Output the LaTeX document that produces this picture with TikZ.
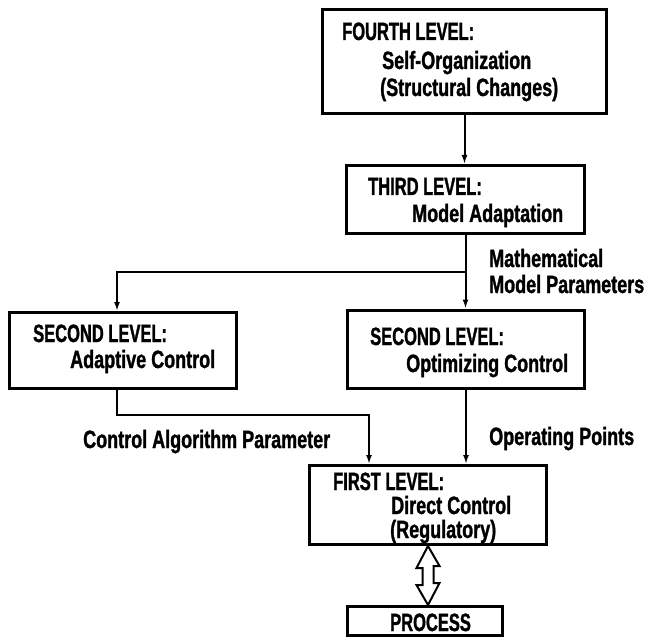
\documentclass[tikz,border=0pt]{standalone}
\usepackage{fontspec}
\setmainfont{Liberation Sans}
\newfontfamily\capsfont{Liberation Sans}[FakeStretch=0.66, FakeBold=1.2]
\newfontfamily\mixfont{Liberation Sans}[FakeStretch=0.72, FakeBold=1.2]
\usetikzlibrary{arrows.meta}
\tikzset{
  box/.style={draw, line width=3pt, inner sep=0pt},
  capstxt/.style={anchor=base west, inner sep=0pt, font=\capsfont\bfseries\fontsize{25}{28}\selectfont},
  mixtxt/.style={anchor=base west, inner sep=0pt, font=\mixfont\bfseries\fontsize{25}{28}\selectfont},
  arr/.style={line width=2pt, -{Latex[length=9pt,width=6pt]}},
  dbl/.style={line width=2pt, line join=miter, fill=white}
}
\begin{document}
\begin{tikzpicture}[x=1pt,y=-1pt]
\useasboundingbox (0,0) rectangle (648,639);
% boxes
\node[box, minimum width=284pt, minimum height=104pt] (b4) at (464.5,61.5) {};
\node[box, minimum width=238pt, minimum height=68pt] (b3) at (465.5,199.5) {};
\node[box, minimum width=227pt, minimum height=76pt] (b2l) at (123,350.5) {};
\node[box, minimum width=237pt, minimum height=78pt] (b2r) at (466,349) {};
\node[box, minimum width=237pt, minimum height=79pt] (b1) at (428,505) {};
\node[box, minimum width=155pt, minimum height=29pt] (b5) at (425,621) {};
% texts
\node[capstxt] (t4a) at (342,40) {FOURTH LEVEL:};
\node[mixtxt] (t4b) at (382,69) {Self-Organization};
\node[mixtxt] (t4c) at (380,96) {(Structural Changes)};
\node[capstxt] (t3a) at (368,195) {THIRD LEVEL:};
\node[mixtxt] (t3b) at (412,222) {Model Adaptation};
\node[mixtxt] (tm1) at (489,267) {Mathematical};
\node[mixtxt] (tm2) at (489,293) {Model Parameters};
\node[capstxt] (t2la) at (33,342) {SECOND LEVEL:};
\node[mixtxt] (t2lb) at (70,368) {Adaptive Control};
\node[capstxt] (t2ra) at (370,345) {SECOND LEVEL:};
\node[mixtxt] (t2rb) at (406,372) {Optimizing Control};
\node[mixtxt] (tcap) at (83,448) {Control Algorithm Parameter};
\node[mixtxt] (top) at (489,445) {Operating Points};
\node[capstxt] (t1a) at (333,490) {FIRST LEVEL:};
\node[mixtxt] (t1b) at (391,514) {Direct Control};
\node[mixtxt] (t1c) at (390,538) {(Regulatory)};
\node[capstxt] (t5) at (390,631) {PROCESS};
% connectors
\coordinate (j1) at (465.5,272);
\coordinate (j2) at (117,272);
\coordinate (j3) at (117,415);
\coordinate (j4) at (369,415);
\draw[arr] (b4.south) -- (b4.south |- b3.north);
\draw[arr] (b3.south) -- (b3.south |- b2r.north);
\draw[arr] (j1) -- (j2) -- (j2 |- b2l.north);
\draw[arr] (j3 |- b2l.south) -- (j3) -- (j4) -- (j4 |- b1.north);
\draw[arr] (b2r.south) -- (b2r.south |- b1.north);
% double arrow
\draw[dbl] (b1.south) -- ++(11.5,20) -- ++(-6,0) -- ++(0,17) -- ++(6,0)
  -- (b1.south |- b5.north) -- ++(-11.5,-20) -- ++(6,0) -- ++(0,-17) -- ++(-6,0) -- cycle;
\end{tikzpicture}
\end{document}
